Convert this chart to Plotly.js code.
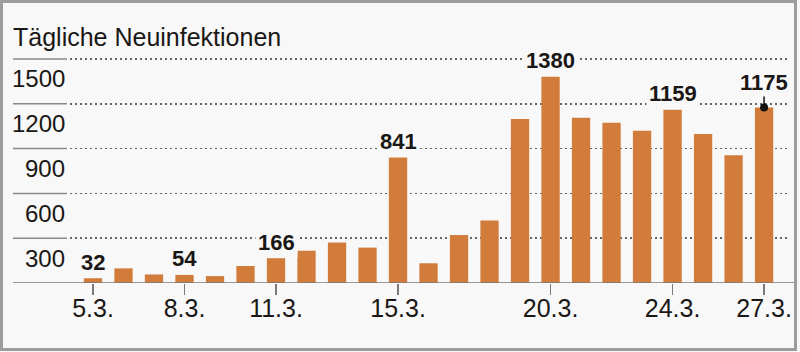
<!DOCTYPE html>
<html>
<head>
<meta charset="utf-8">
<script src="https://cdn.plot.ly/plotly-3.0.1.min.js"></script>
<style>
  html, body { margin: 0; padding: 0; background: #f8f8f8; }
  #wrap { position: relative; width: 800px; height: 352px; }
  #chart { position: absolute; left: 0; top: 0; width: 800px; height: 352px; }
  #frame { position: absolute; left: 0; top: 0; width: 797px; height: 351px; border: 3px solid #9c9c9c; box-sizing: border-box; pointer-events: none; }
</style>
</head>
<body>
<div id="wrap">
  <div id="chart"></div>
  <div id="frame"></div>
</div>
<script>
// ---- data ----
const days = ['5.3.','6.3.','7.3.','8.3.','9.3.','10.3.','11.3.','12.3.','13.3.','14.3.','15.3.','16.3.','17.3.','18.3.','19.3.','20.3.','21.3.','22.3.','23.3.','24.3.','25.3.','26.3.','27.3.'];
const cases = [32, 98, 57, 54, 46, 114, 166, 216, 271, 237, 841, 132, 321, 419, 1098, 1380, 1107, 1072, 1020, 1159, 997, 856, 1175];
const xTickLabels = ['5.3.','8.3.','11.3.','15.3.','20.3.','24.3.','27.3.'];
const yTickValues = [300, 600, 900, 1200, 1500];
const labelledDays = ['5.3.','8.3.','11.3.','15.3.','20.3.','24.3.'];
const calloutDay = '27.3.';
const titleText = 'Tägliche Neuinfektionen';

// ---- styles ----
const FONT = '"Liberation Sans", Arial, Helvetica, sans-serif';
const TXT = '#1a1714';
const BG = '#f8f8f8';
const BAR = '#d27c3c';

const valueOf = d => cases[days.indexOf(d)];

const annotations = [];
labelledDays.forEach(d => {
  annotations.push({
    x: d, y: valueOf(d), xref: 'x', yref: 'y',
    text: '<b>' + valueOf(d) + '</b>', showarrow: false,
    yanchor: 'middle', yshift: 16,
    bgcolor: BG, borderpad: 2,
    font: { family: FONT, size: 22, color: TXT }
  });
});
annotations.push({
  x: calloutDay, y: valueOf(calloutDay), xref: 'x', yref: 'y',
  text: '<b>' + valueOf(calloutDay) + '</b>', showarrow: true,
  arrowhead: 0, arrowwidth: 1.5, arrowcolor: '#111', ax: 0, ay: -25, standoff: 0,
  bgcolor: BG, borderpad: 1,
  font: { family: FONT, size: 22, color: TXT }
});
yTickValues.forEach(v => {
  annotations.push({
    x: -0.004, xref: 'paper', xanchor: 'right',
    y: v, yref: 'y', yanchor: 'middle', yshift: -20,
    text: String(v), showarrow: false,
    font: { family: FONT, size: 24, color: TXT }
  });
});

const shapes = [];
yTickValues.forEach(v => {
  shapes.push({
    type: 'line', xref: 'paper', yref: 'y',
    x0: -0.0792, x1: -0.0042, y0: v, y1: v,
    line: { color: '#8d8883', width: 1.5 }
  });
});
shapes.push({
  type: 'line', xref: 'paper', yref: 'y',
  x0: -0.0792, x1: 1.0069, y0: 0, y1: 0,
  line: { color: '#7d7873', width: 1.5 }, layer: 'above'
});

const traces = [
  {
    type: 'bar', x: days, y: cases,
    marker: { color: BAR, line: { width: 0 } },
    hoverinfo: 'skip'
  },
  {
    type: 'scatter', mode: 'markers',
    x: [calloutDay], y: [valueOf(calloutDay)],
    marker: { color: '#111', size: 8 },
    hoverinfo: 'skip', cliponaxis: false
  }
];

const layout = {
  width: 800, height: 352,
  margin: { l: 70, r: 10, t: 44, b: 69 },
  paper_bgcolor: BG, plot_bgcolor: BG,
  showlegend: false,
  bargap: 0.4,
  title: {
    text: titleText, xref: 'container', yref: 'container',
    x: 13 / 800, xanchor: 'left', y: 1 - 37 / 352, yanchor: 'middle',
    font: { family: FONT, size: 25, color: TXT }
  },
  xaxis: {
    type: 'category', categoryorder: 'array', categoryarray: days,
    range: [-0.754, 22.85],
    tickmode: 'array', tickvals: xTickLabels, ticktext: xTickLabels,
    ticks: 'outside', ticklen: 11, tickwidth: 1.5, tickcolor: '#7d7873',
    ticklabelstandoff: -8,
    tickfont: { family: FONT, size: 25, color: TXT },
    showgrid: false, zeroline: false, showline: false, fixedrange: true
  },
  yaxis: {
    range: [0, 1600],
    tickmode: 'array', tickvals: yTickValues,
    showticklabels: false, ticks: '',
    showgrid: true, gridcolor: '#666', gridwidth: 1.5, griddash: '1.5px,3.5px',
    zeroline: false, showline: false, fixedrange: true
  },
  annotations: annotations,
  shapes: shapes
};

Plotly.newPlot('chart', traces, layout, { staticPlot: true, displayModeBar: false });
</script>
</body>
</html>
